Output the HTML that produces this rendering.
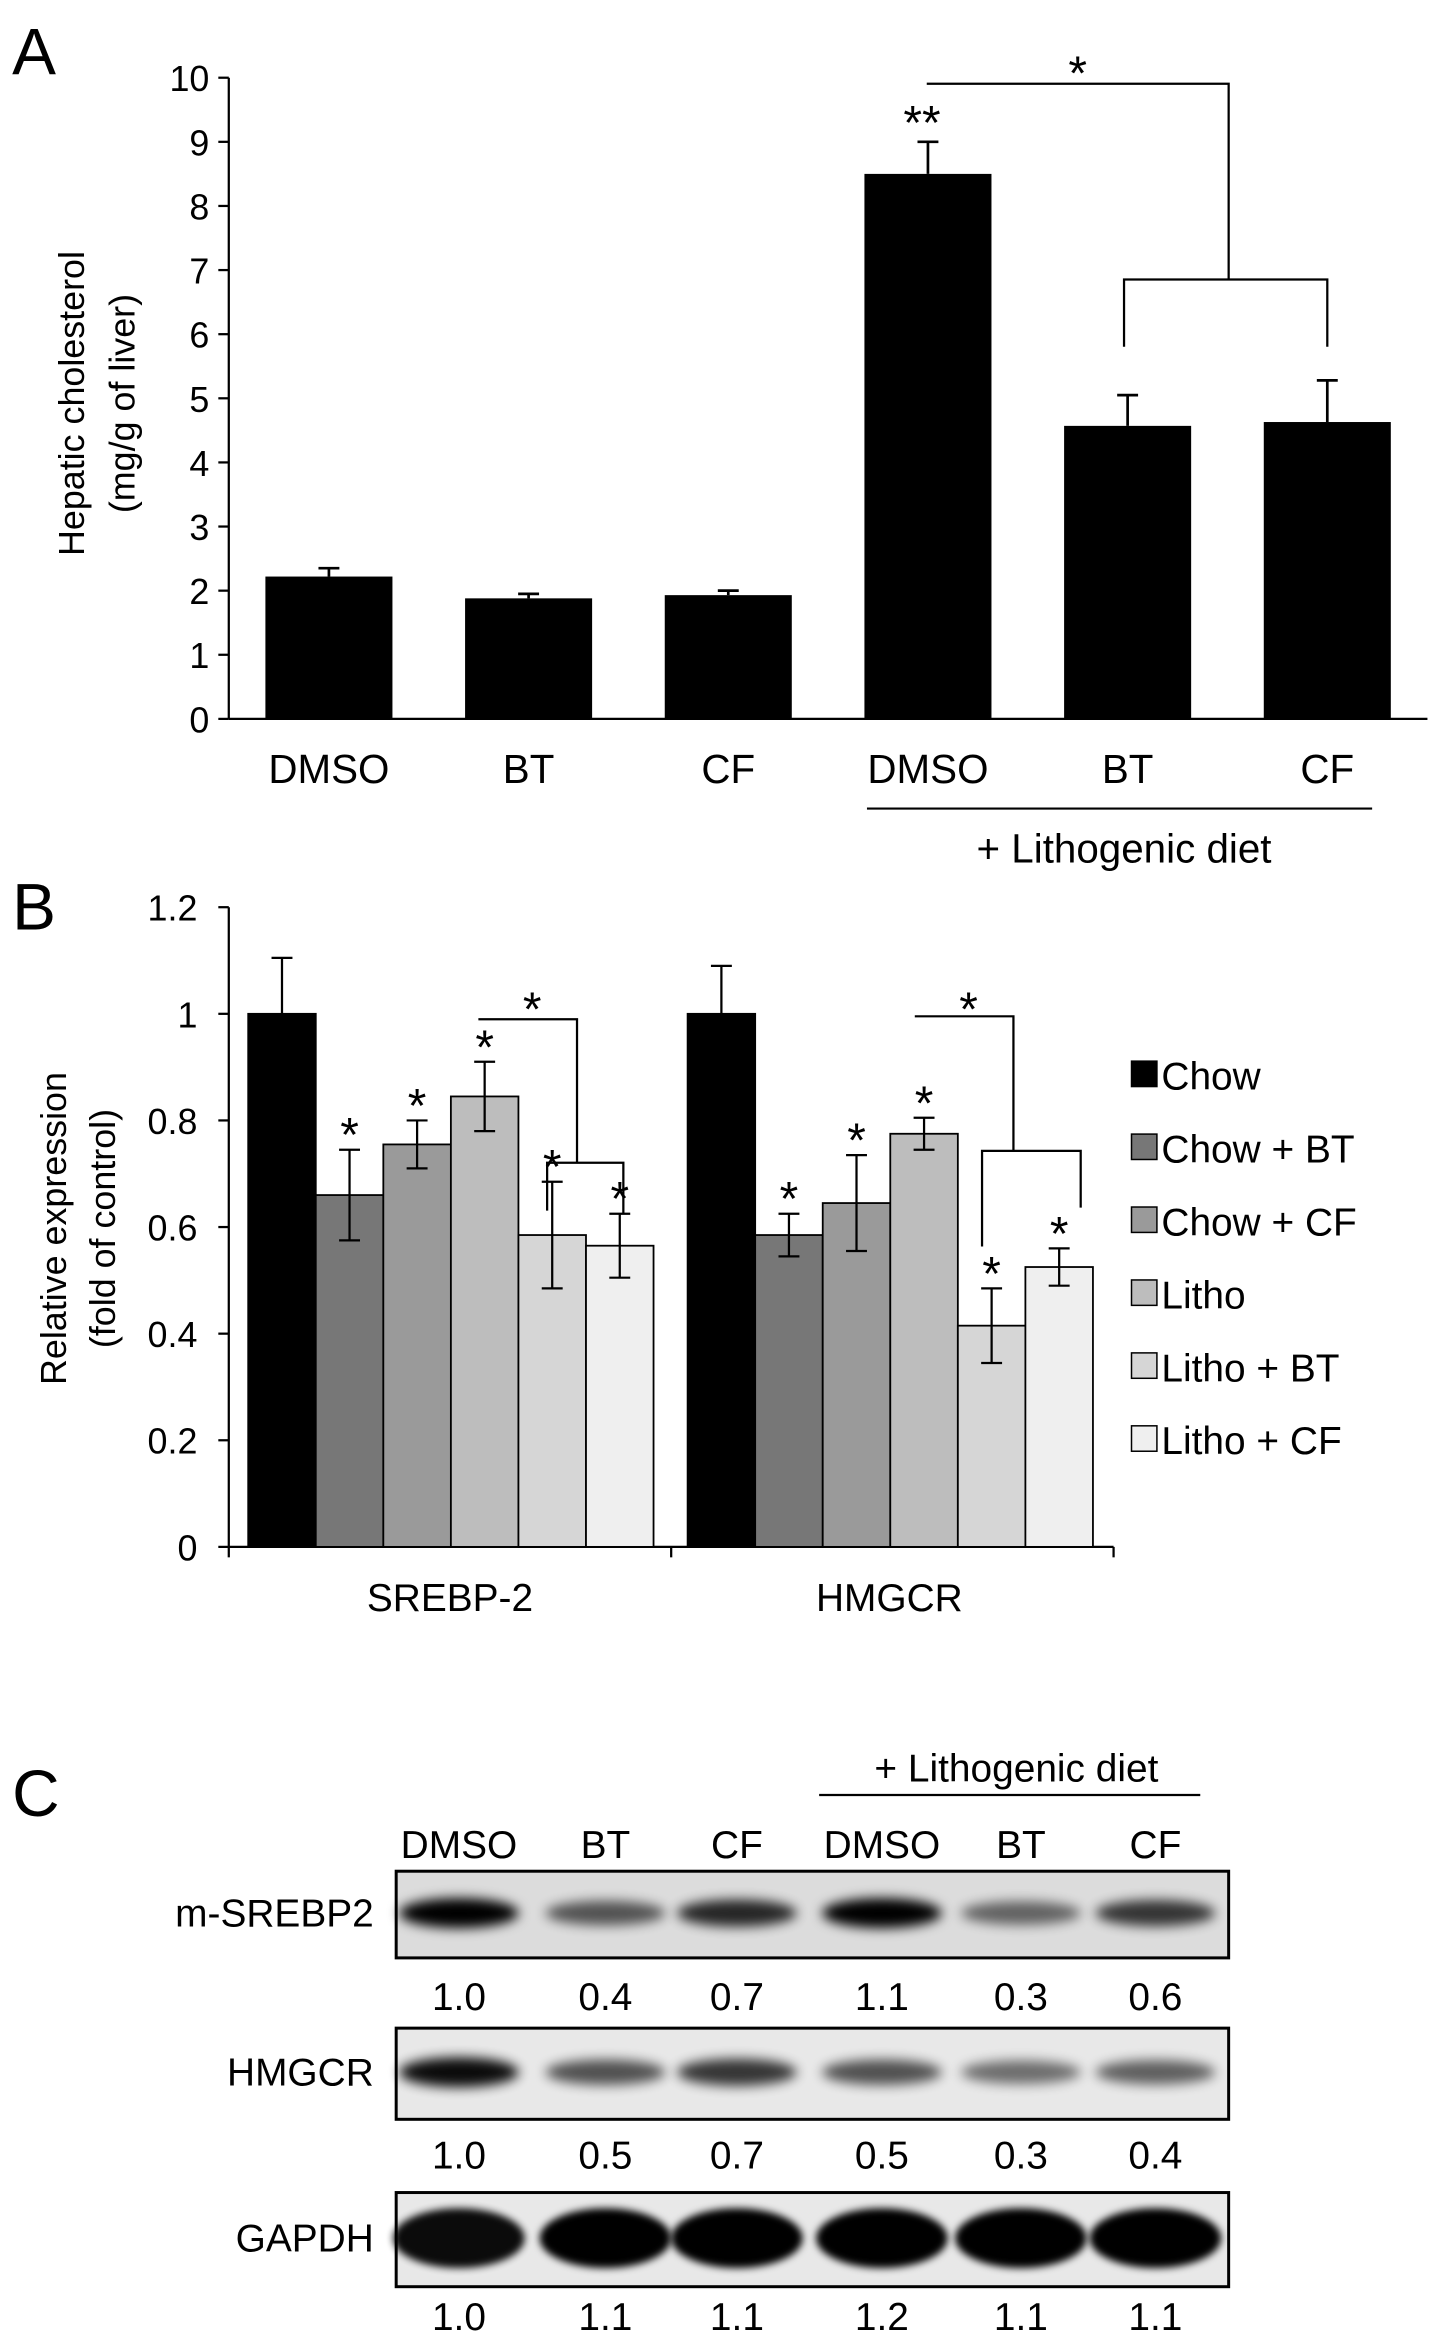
<!DOCTYPE html>
<html><head><meta charset="utf-8"><style>
html,body{margin:0;padding:0;background:#fff;}
svg text{font-family:"Liberation Sans",Arial,sans-serif;fill:#000;}
</style></head><body>
<svg id="fig" width="1441" height="2342" viewBox="0 0 964 1567" xmlns="http://www.w3.org/2000/svg">
<defs>
<filter id="blur" x="-30%" y="-80%" width="160%" height="260%"><feGaussianBlur stdDeviation="4"/></filter>
<filter id="blur2" x="-30%" y="-80%" width="160%" height="260%"><feGaussianBlur stdDeviation="2.5"/></filter>
</defs>
<g id="A"></g>
<g id="B"></g>
<g id="C"></g>
</svg>
<script>
// Panel A data
const aCats = ["DMSO","BT","CF","DMSO","BT","CF"];
const aVals = [2.22,1.88,1.93,8.5,4.57,4.63];
const aErr = [0.13,0.07,0.07,0.5,0.48,0.65];
const aTicks = [0,1,2,3,4,5,6,7,8,9,10];
// Panel B data
const bGroups = ["SREBP-2","HMGCR"];
const bSeries = ["Chow","Chow + BT","Chow + CF","Litho","Litho + BT","Litho + CF"];
const bSrebp = [1.0,0.66,0.755,0.845,0.585,0.565];
const bSrebpErr = [0.105,0.085,0.045,0.065,0.1,0.06];
const bHmgcr = [1.0,0.585,0.645,0.775,0.415,0.525];
const bHmgcrErr = [0.09,0.04,0.09,0.03,0.07,0.035];
const bTicks = [0,0.2,0.4,0.6,0.8,1.0,1.2];
const bTickLabels = ["0","0.2","0.4","0.6","0.8","1","1.2"];
// Panel C data
const cLanes = ["DMSO","BT","CF","DMSO","BT","CF"];
const cRows = ["m-SREBP2","HMGCR","GAPDH"];
const cSrebp = [1.0,0.4,0.7,1.1,0.3,0.6];
const cHmgcr = [1.0,0.5,0.7,0.5,0.3,0.4];
const cGapdh = [1.0,1.1,1.1,1.2,1.1,1.1];
const cSrebpLbl = ["1.0","0.4","0.7","1.1","0.3","0.6"];
const cHmgcrLbl = ["1.0","0.5","0.7","0.5","0.3","0.4"];
const cGapdhLbl = ["1.0","1.1","1.1","1.2","1.1","1.1"];

const NS="http://www.w3.org/2000/svg";
function mk(parent,tag,attrs,text){const e=document.createElementNS(NS,tag);for(const k in attrs)e.setAttribute(k,attrs[k]);if(text!==undefined)e.textContent=text;parent.appendChild(e);return e;}

// ---------- Panel A ----------
const A=document.getElementById('A');
let t=mk(A,'text',{x:8,y:50,'font-size':44},'A');


const aY=v=>481-v*42.9;
const aX=i=>220+i*133.6;
let ax=mk(A,'line',{x1:153,y1:aY(0),x2:153,y2:aY(10),stroke:'#000','stroke-width':1.5});


ax=mk(A,'line',{x1:153,y1:aY(0),x2:955,y2:aY(0),stroke:'#000','stroke-width':1.5});


aTicks.forEach(v=>{
  mk(A,'line',{x1:146,y1:aY(v),x2:153,y2:aY(v),stroke:'#000','stroke-width':1.5});
  const tl=mk(A,'text',{x:140,y:aY(v)+9,'font-size':24,'text-anchor':'end'},String(v));
  
  
});
let yt=mk(A,'text',{transform:'translate(56,270) rotate(-90)','font-size':24,'text-anchor':'middle'},'Hepatic cholesterol');


yt=mk(A,'text',{transform:'translate(90,270) rotate(-90)','font-size':24,'text-anchor':'middle'},'(mg/g of liver)');


aCats.forEach((c,i)=>{
  const cx=aX(i),w=85;
  const b=mk(A,'rect',{x:cx-w/2,y:aY(aVals[i]),width:w,height:aY(0)-aY(aVals[i]),fill:'#000'});
  
  
  const top=aY(aVals[i]+aErr[i]);
  const eb=mk(A,'path',{d:`M${cx},${aY(aVals[i])} V${top} M${cx-7},${top} H${cx+7}`,stroke:'#000','stroke-width':1.8,fill:'none'});
  
  
  const l=mk(A,'text',{x:cx,y:524,'font-size':27,'text-anchor':'middle'},c);
  
  
});
let ln=mk(A,'line',{x1:580,y1:541,x2:918,y2:541,stroke:'#000','stroke-width':1.5});


t=mk(A,'text',{x:752,y:577,'font-size':27,'text-anchor':'middle'},'+ Lithogenic diet');


t=mk(A,'text',{x:aX(3)-4,y:aY(aVals[3]+aErr[3])-2,'font-size':32,'text-anchor':'middle'},'**');


let br=mk(A,'path',{d:`M620,56 H822 V187 M752,232 V187 H888 V232`,stroke:'#000','stroke-width':1.5,fill:'none'});


t=mk(A,'text',{x:721,y:60,'font-size':32,'text-anchor':'middle'},'*');



// ---------- Panel B ----------
const B=document.getElementById('B');
t=mk(B,'text',{x:8,y:622,'font-size':44},'B');


const bY=v=>1035-v*(1035-607)/1.2;
const colors=['#000','#777','#9a9a9a','#bdbdbd','#d6d6d6','#efefef'];
ax=mk(B,'line',{x1:153,y1:bY(0),x2:153,y2:bY(1.2),stroke:'#000','stroke-width':1.5});


ax=mk(B,'line',{x1:153,y1:bY(0),x2:745,y2:bY(0),stroke:'#000','stroke-width':1.5});


[153,449,745].forEach(x=>mk(B,'line',{x1:x,y1:bY(0),x2:x,y2:bY(0)+7,stroke:'#000','stroke-width':1.5}));
bTicks.forEach((v,i)=>{
  mk(B,'line',{x1:146,y1:bY(v),x2:153,y2:bY(v),stroke:'#000','stroke-width':1.5});
  const tl=mk(B,'text',{x:132,y:bY(v)+9,'font-size':24,'text-anchor':'end'},bTickLabels[i]);
  
  
});
yt=mk(B,'text',{transform:'translate(44,822) rotate(-90)','font-size':24,'text-anchor':'middle'},'Relative expression');


yt=mk(B,'text',{transform:'translate(77,822) rotate(-90)','font-size':24,'text-anchor':'middle'},'(fold of control)');


const bData=[[bSrebp,bSrebpErr],[bHmgcr,bHmgcrErr]];
const gStart=[166,460];
bGroups.forEach((g,gi)=>{
  const [vals,errs]=bData[gi];
  vals.forEach((v,i)=>{
    const x=gStart[gi]+i*45.2,w=45.2,cx=x+w/2;
    const b=mk(B,'rect',{x:x,y:bY(v),width:w,height:bY(0)-bY(v),fill:colors[i],stroke:'#000','stroke-width':1.2});
    
    
    const top=bY(v+errs[i]),bot=bY(v-errs[i]);
    const eb=mk(B,'path',{d:`M${cx},${bot} V${top} M${cx-7},${top} H${cx+7} M${cx-7},${bot} H${cx+7}`,stroke:'#000','stroke-width':1.5,fill:'none'});
    
    
    if(i>0){
      const s=mk(B,'text',{x:cx,y:top+1,'font-size':32,'text-anchor':'middle'},'*');
      
      
    }
  });
  const l=mk(B,'text',{x:gStart[gi]+135,y:1078,'font-size':26,'text-anchor':'middle'},g);
  
  
});
br=mk(B,'path',{d:`M320,682 H386 V778 M366,810 V778 H417 V812`,stroke:'#000','stroke-width':1.5,fill:'none'});


t=mk(B,'text',{x:356,y:686,'font-size':32,'text-anchor':'middle'},'*');


br=mk(B,'path',{d:`M612,680 H678 V770 M657,834 V770 H723 V808`,stroke:'#000','stroke-width':1.5,fill:'none'});


t=mk(B,'text',{x:648,y:686,'font-size':32,'text-anchor':'middle'},'*');


bSeries.forEach((s,i)=>{
  const y=720+i*48.8;
  const g=mk(B,'g',{});
  
  
  mk(g,'rect',{x:757,y:y-10,width:17,height:17,fill:colors[i],stroke:'#000','stroke-width':1});
  mk(g,'text',{x:777,y:y+9,'font-size':26},s);
});

// ---------- Panel C ----------
const C=document.getElementById('C');
t=mk(C,'text',{x:8,y:1215,'font-size':44},'C');


const laneX=[307,405,493,590,683,773];
t=mk(C,'text',{x:680,y:1192,'font-size':26,'text-anchor':'middle'},'+ Lithogenic diet');


ln=mk(C,'line',{x1:548,y1:1201,x2:803,y2:1201,stroke:'#000','stroke-width':1.5});


cLanes.forEach((c,i)=>{
  const l=mk(C,'text',{x:laneX[i],y:1243,'font-size':26,'text-anchor':'middle'},c);
  
  
});
const blots=[[cSrebp,cSrebpLbl,1252,1310,1345,22,1.25],[cHmgcr,cHmgcrLbl,1357,1418,1451,22,1.1],[cGapdh,cGapdhLbl,1467,1530,1559,40,1.1]];
blots.forEach((bl,ri)=>{
  const [vals,lbls,y1,y2,ly,bh,k]=bl;
  const g=mk(C,'g',{});
  
  
  mk(g,'rect',{x:265,y:y1,width:557,height:y2-y1,fill:ri==0?'#dcdcdc':'#e8e8e8'});
  const cy=(y1+y2)/2-1;
  vals.forEach((v,i)=>{
    const band=mk(g,'ellipse',{cx:laneX[i],cy:cy,rx:ri==2?44:40,ry:ri==2?bh/2:7+3*Math.min(v,1),fill:'#000',opacity:Math.min(1,0.35+0.6*v*k/1.1),filter:ri==2?'url(#blur2)':'url(#blur)'});
    
    
    const l=mk(C,'text',{x:laneX[i],y:ly,'font-size':26,'text-anchor':'middle'},lbls[i]);
    
    
  });
  mk(g,'rect',{x:265,y:y1,width:557,height:y2-y1,fill:'none',stroke:'#000','stroke-width':2});
  const rl=mk(C,'text',{x:250,y:cy+9,'font-size':26,'text-anchor':'end'},cRows[ri]);
  
  
});
</script>
</body></html>
